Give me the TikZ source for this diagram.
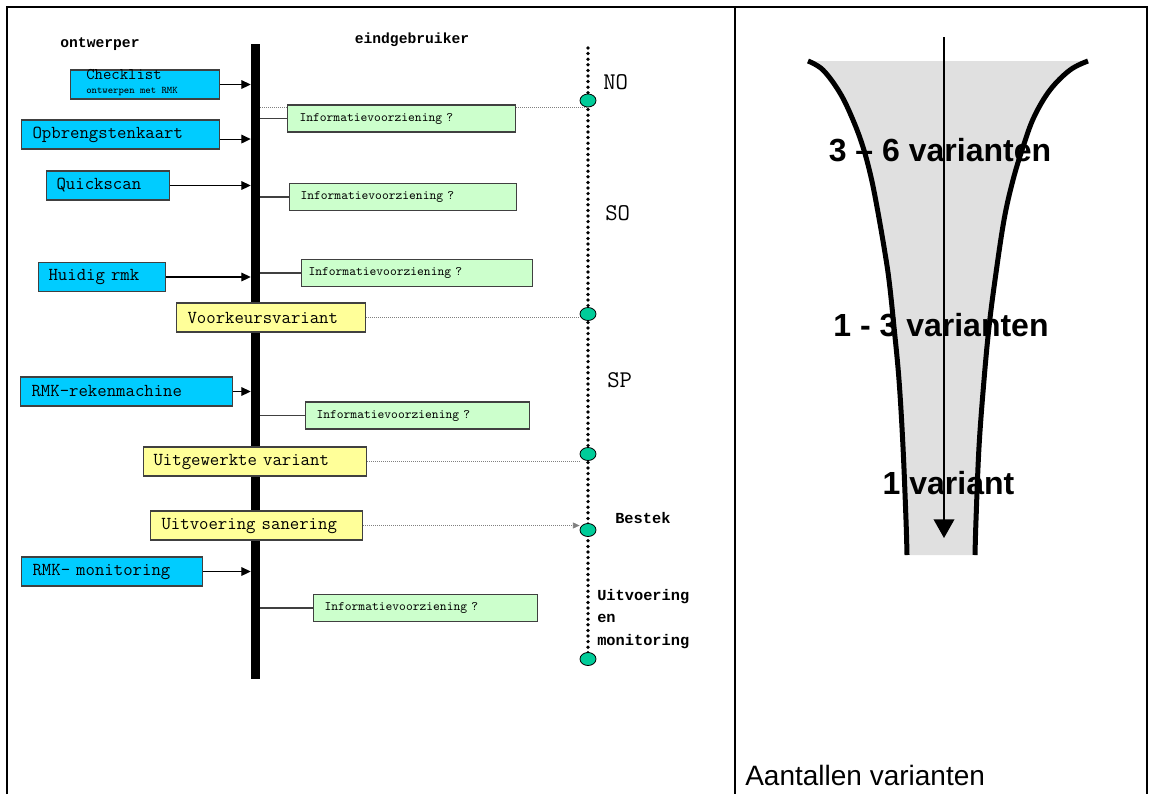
\documentclass[tikz,border=0pt]{standalone}
\usepackage{fontspec}
\newfontfamily\arial{Liberation Sans}
\newfontfamily\monob{Liberation Mono}
\newcommand\cour{\ttfamily}
\usetikzlibrary{shapes.geometric,arrows.meta,fit}
\definecolor{cyanfill}{HTML}{00CCFF}
\definecolor{greenfill}{HTML}{CCFFCC}
\definecolor{yellowfill}{HTML}{FFFF99}
\definecolor{dotgreen}{HTML}{00CC99}
\definecolor{boxline}{HTML}{404040}
\definecolor{funnelgray}{HTML}{E0E0E0}
\pgfdeclarelayer{bg}
\pgfsetlayers{bg,main}
\begin{document}
\begin{tikzpicture}[x=0.75pt,y=-0.75pt,
  box/.style={draw=boxline, line width=0.8pt, anchor=west, align=left, inner ysep=0pt},
  bluebox/.style={box, fill=cyanfill, minimum height=21.75pt, font=\cour\fontsize{13.7}{15}\selectfont},
  greenbox/.style={box, fill=greenfill, minimum height=20.25pt, font=\cour\fontsize{9.7}{11}\selectfont},
  yellowbox/.style={box, fill=yellowfill, minimum height=21.75pt, font=\cour\fontsize{13.7}{15}\selectfont},
  arr/.style={-{Triangle[length=7pt,width=6.5pt]}, line width=0.8pt, black},
  conn/.style={line width=0.8pt, draw=boxline},
  dotline/.style={draw=gray, line width=0.5pt, densely dotted},
  phasedots/.style={line width=2.8pt, line cap=round, dash pattern=on 0pt off 4.2pt},
  milestone/.style={ellipse, draw=black, line width=0.6pt, fill=dotgreen, minimum width=12pt, minimum height=9.75pt, inner sep=0pt},
  header/.style={inner sep=0pt, font=\monob\bfseries\fontsize{11}{13}\selectfont},
  phase/.style={anchor=west, inner sep=0pt, font=\cour\fontsize{18}{20}\selectfont},
  boldlab/.style={anchor=west, inner sep=0pt, align=left, font=\monob\bfseries\fontsize{11.5}{17}\selectfont},
  bigtext/.style={inner sep=0pt, font=\arial\bfseries\fontsize{24}{28}\selectfont},
  funnelline/.style={line width=3.75pt},
]
\useasboundingbox (0,0) rectangle (1149,794);

% table frame
\draw[line width=1.5pt] (7,794) -- (7,7) -- (1147,7) -- (1147,794);
\draw[line width=1.5pt] (735,7) -- (735,794);

% ===================== left panel =====================
\node[header] (hont) at (100,44) {ontwerper};
\node[header] (heind) at (412,40) {eindgebruiker};

% main bar
\node[fit={(251,44) (260,679)}, inner sep=0pt, fill=black] (bar) {};

% phase line
\coordinate (vtop) at (588,48);
\coordinate (vbot) at (588,659);
\draw[phasedots] (vtop) -- (vbot);

% milestones
\node[milestone] (c1) at (588,100.5) {};
\node[milestone] (c2) at (588,314) {};
\node[milestone] (c3) at (588,454) {};
\node[milestone] (c4) at (588,530) {};
\node[milestone] (c5) at (588,659) {};

\node[phase] (no) at (603,82) {NO};
\node[phase] (so) at (605,213) {SO};
\node[phase] (sp) at (607,380) {SP};
\node[boldlab] (bestek) at (615,518) {Bestek};
\node[boldlab] (uem) at (597,619) {Uitvoering\\en\\monitoring};

% blue boxes (designer tools)
\node[bluebox, minimum width=111.75pt, inner xsep=0pt] (ck) at (70,84.5) {};
\node[anchor=west, inner sep=0pt, font=\cour\fontsize{12.2}{13}\selectfont] (ckt) at (86,75) {Checklist};
\node[anchor=west, inner sep=0pt, font=\cour\fontsize{7.6}{8}\selectfont] (cks) at (86,92) {ontwerpen met RMK};
\node[bluebox, text width=132pt, inner xsep=8.25pt] (ob) at (21,134.5) {Opbrengstenkaart};
\node[bluebox, text width=77.25pt, inner xsep=7.5pt] (qs) at (46,185.5) {Quickscan};
\node[bluebox, text width=80.25pt, inner xsep=7.5pt] (hr) at (38,277) {Huidig rmk};
\node[bluebox, text width=142.5pt, inner xsep=8.25pt] (rr) at (20,391.5) {RMK-rekenmachine};
\node[bluebox, text width=119.25pt, inner xsep=8.25pt] (rm) at (21,571.5) {RMK- monitoring};

% green boxes
\node[greenbox, text width=153pt, inner xsep=9pt] (g1) at (287,118.5) {Informatievoorziening ?};
\node[greenbox, text width=153.75pt, inner xsep=8.25pt] (g2) at (289,197) {Informatievoorziening ?};
\node[greenbox, text width=162.75pt, inner xsep=5.25pt] (g3) at (301,273) {Informatievoorziening ?};
\node[greenbox, text width=151.5pt, inner xsep=8.25pt] (g4) at (305,415.5) {Informatievoorziening ?};
\node[greenbox, text width=151.5pt, inner xsep=8.25pt] (g5) at (313,608) {Informatievoorziening ?};

% yellow boxes
\node[yellowbox, text width=125.25pt, inner xsep=8.25pt] (vk) at (176,317.5) {Voorkeursvariant};
\node[yellowbox, text width=152.25pt, inner xsep=7.5pt] (uv) at (143,461.5) {Uitgewerkte variant};
\node[yellowbox, text width=142.5pt, inner xsep=8.25pt] (us) at (150,525.5) {Uitvoering sanering};

\coordinate (obo) at ([yshift=-3.4pt]ob.east);

\begin{pgfonlayer}{bg}
  % arrows to bar
  \draw[arr] (ck.east) -- (ck.east -| bar.west);
  \draw[arr] (obo) -- (obo -| bar.west);
  \draw[arr] (qs.east) -- (qs.east -| bar.west);
  \draw[arr] (hr.east) -- (hr.east -| bar.west);
  \draw[arr] (rr.east) -- (rr.east -| bar.west);
  \draw[arr] (rm.east) -- (rm.east -| bar.west);
  % bar to information boxes
  \draw[conn] (g1.west -| bar.east) -- (g1.west);
  \draw[conn] (g2.west -| bar.east) -- (g2.west);
  \draw[conn] (g3.west -| bar.east) -- (g3.west);
  \draw[conn] (g4.west -| bar.east) -- (g4.west);
  \draw[conn] (g5.west -| bar.east) -- (g5.west);
  % dotted links to milestones
  \draw[dotline] (c1.south -| bar.east) -- (c1.south);
  \draw[dotline] (vk.east) -- (vk.east -| c2.west);
  \draw[dotline] (uv.east) -- (uv.east -| c3.west);
  \draw[dotline, -{Triangle[length=5pt,width=4.5pt]}] (us.east) -- (us.east -| c4.west);
\end{pgfonlayer}

% ===================== right panel =====================
\fill[funnelgray] plot[smooth, tension=0.6] coordinates {(808,61) (823,70) (840,93) (853,120) (863,147) (871,177) (877,207) (884,247) (889,280) (894,327) (899,380) (903,447) (906,520) (907,555)}
  -- plot[smooth, tension=0.6] coordinates {(975,555) (976,520) (979,447) (984,380) (989,327) (995,280) (1004,220) (1013,180) (1023,147) (1034,117) (1050,90) (1070,70) (1088,61)} -- cycle;
\draw[funnelline] plot[smooth, tension=0.6] coordinates {(808,61) (823,70) (840,93) (853,120) (863,147) (871,177) (877,207) (884,247) (889,280) (894,327) (899,380) (903,447) (906,520) (907,555)};
\draw[funnelline] plot[smooth, tension=0.6] coordinates {(1088,61) (1070,70) (1050,90) (1034,117) (1023,147) (1013,180) (1004,220) (995,280) (989,327) (984,380) (979,447) (976,520) (975,555)};

\coordinate (ftop) at (944,37);
\coordinate (fbot) at (944,538);
\draw[line width=1.1pt, -{Triangle[length=14pt,width=15.5pt]}] (ftop) -- (fbot);

\node[bigtext] (v36) at (940,150.5) {3 – 6 varianten};
\node[bigtext] (v13) at (941,325.5) {1 - 3 varianten};
\node[bigtext] (v1) at (948.5,483.5) {1 variant};

\node[anchor=base west, inner sep=0pt, font=\arial\fontsize{21}{24}\selectfont] (aant) at (745,785) {Aantallen varianten};
\end{tikzpicture}
\end{document}
